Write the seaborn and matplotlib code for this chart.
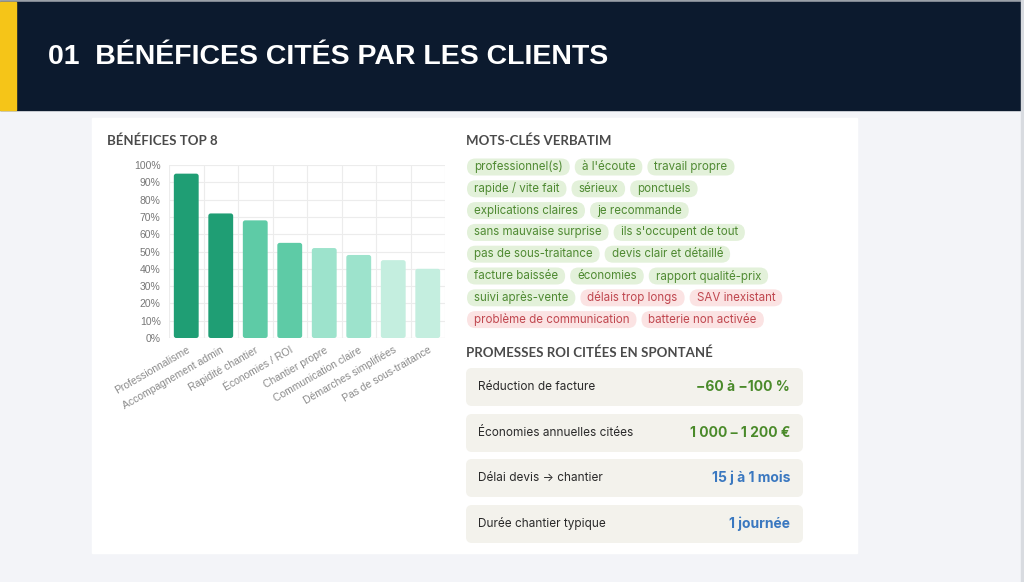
import matplotlib
matplotlib.use("Agg")
import matplotlib.pyplot as plt
from matplotlib.patches import FancyBboxPatch, Rectangle
from matplotlib.ticker import PercentFormatter
import pandas as pd
import seaborn as sns

# donnees
benefices = ["Professionnalisme", "Accompagnement admin", "Rapidité chantier", "Économies / ROI",
             "Chantier propre", "Communication claire", "Démarches simplifiées", "Pas de sous-traitance"]
pourcentages = [95, 72, 68, 55, 52, 48, 45, 40]
couleurs_barres = ["#1f9e74", "#1f9e74", "#5ecba6", "#5ecba6", "#9de3cc", "#9de3cc", "#c4eedf", "#c4eedf"]

mots_cles = ["professionnel(s)", "à l'écoute", "travail propre", "rapide / vite fait", "sérieux", "ponctuels",
             "explications claires", "je recommande", "sans mauvaise surprise", "ils s'occupent de tout",
             "pas de sous-traitance", "devis clair et détaillé", "facture baissée", "économies",
             "rapport qualité-prix", "suivi après-vente", "délais trop longs", "SAV inexistant",
             "problème de communication", "batterie non activée"]
sentiment = ["pos"] * 16 + ["neg"] * 4

roi_labels = ["Réduction de facture", "Économies annuelles citées", "Délai devis → chantier", "Durée chantier typique"]
roi_valeurs = ["−60 à −100 %", "1 000 – 1 200 €", "15 j à 1 mois", "1 journée"]
roi_couleurs = ["#4a8a2a", "#4a8a2a", "#3a78c0", "#3a78c0"]

W, H = 1024, 582
fig = plt.figure(figsize=(W / 100, H / 100), dpi=100)
fig.patch.set_facecolor("#f3f4f8")

# calque de fond en pixels
bg = fig.add_axes([0, 0, 1, 1])
bg.set_xlim(0, W)
bg.set_ylim(H, 0)
bg.axis("off")

bg.add_patch(Rectangle((0, 0), W, 2, color="#9aa0a8"))
bg.add_patch(Rectangle((0, 2), W, 108, color="#0c1a2e"))
bg.add_patch(Rectangle((0, 2), 16, 108, color="#f5c518"))
bg.text(48, 57, "01  BÉNÉFICES CITÉS PAR LES CLIENTS", color="white", fontsize=20.5,
        fontweight="bold", family="Liberation Sans", va="center", ha="left")
bg.add_patch(Rectangle((92, 118), 765, 435, color="white"))
bg.add_patch(Rectangle((1021, 0), 3, H, color="#d8dbe0"))

titre_kw = dict(color="#4a4a4a", fontsize=9.5, fontweight="bold", family="Lato", va="center")
bg.text(107, 141, "BÉNÉFICES TOP 8", **titre_kw)
bg.text(466, 141, "MOTS-CLÉS VERBATIM", **titre_kw)
bg.text(466, 353, "PROMESSES ROI CITÉES EN SPONTANÉ", **titre_kw)

# graphique en barres
ax = fig.add_axes([169 / W, 1 - 338 / H, 276 / W, 173 / H])
df = pd.DataFrame({"benefice": benefices, "pct": pourcentages})
sns.barplot(data=df, x="benefice", y="pct", hue="benefice", palette=couleurs_barres,
            legend=False, width=0.72, saturation=1, ax=ax)
ax.set_ylim(0, 100)
ax.set_xlim(-0.5, len(benefices) - 0.5)
ax.set_xlabel("")
ax.set_ylabel("")
ax.set_yticks(range(0, 101, 10))
ax.yaxis.set_major_formatter(PercentFormatter(decimals=0))
ax.set_xticks(range(len(benefices)))
ax.set_xticks([i + 0.5 for i in range(-1, len(benefices))], minor=True)
ax.set_xticklabels(benefices, rotation=30, ha="right", rotation_mode="anchor",
                   fontsize=7.5, color="#8a8a8a", family="Liberation Sans")
ax.tick_params(axis="y", labelsize=7.5, labelcolor="#777777", length=0, pad=6)
ax.tick_params(axis="x", which="both", length=0, pad=5)
for lab in ax.get_yticklabels():
    lab.set_family("Liberation Sans")
ax.grid(axis="y", color="#ececec", linewidth=0.8)
ax.grid(axis="x", which="minor", color="#ececec", linewidth=0.8)
ax.set_axisbelow(True)
for s in ax.spines.values():
    s.set_visible(False)
ax.axhline(0, color="#dddddd", linewidth=0.8)
ax.set_facecolor("none")

# barres arrondies
asp = (100 / 173) / (len(benefices) / 276)
for p in list(ax.patches):
    x0, y0, w, h = p.get_x(), p.get_y(), p.get_width(), p.get_height()
    fc = p.get_facecolor()
    p.set_visible(False)
    ax.add_patch(FancyBboxPatch((x0, y0), w, h, boxstyle="round,pad=0,rounding_size=0.07",
                                mutation_aspect=asp, facecolor=fc, edgecolor="none", zorder=3))

# mots-cles en pastilles
fig.canvas.draw()
rend = fig.canvas.get_renderer()
x, y = 467, 167
x_max = 795
for mot, s in zip(mots_cles, sentiment):
    fcol, tcol = ("#e3f1da", "#4f8a32") if s == "pos" else ("#fbe3e3", "#c0474f")
    t = bg.text(0, y, mot, fontsize=8.3, color=tcol, family="Inter", va="center", ha="left")
    w = t.get_window_extent(rend).width + 14
    if x + w > x_max:
        x = 467
        y += 21.8
    t.set_x(x + 7)
    t.set_y(y)
    bg.add_patch(FancyBboxPatch((x, y - 8.5), w, 17, boxstyle="round,pad=0,rounding_size=8.5",
                                facecolor=fcol, edgecolor="none", zorder=1))
    t.set_zorder(2)
    x += w + 5

# lignes ROI
tops = [368, 414, 459, 505]
for top, lab, val, col in zip(tops, roi_labels, roi_valeurs, roi_couleurs):
    bg.add_patch(FancyBboxPatch((466, top), 337, 38, boxstyle="round,pad=0,rounding_size=6",
                                facecolor="#f3f2ec", edgecolor="none"))
    bg.text(478, top + 19, lab, fontsize=8.5, color="#2a2a2a", family="Inter", va="center")
    bg.text(790, top + 19, val, fontsize=10, color=col, family="Inter", fontweight="bold",
            va="center", ha="right")

fig.savefig("out.png", dpi=100, facecolor=fig.get_facecolor())
